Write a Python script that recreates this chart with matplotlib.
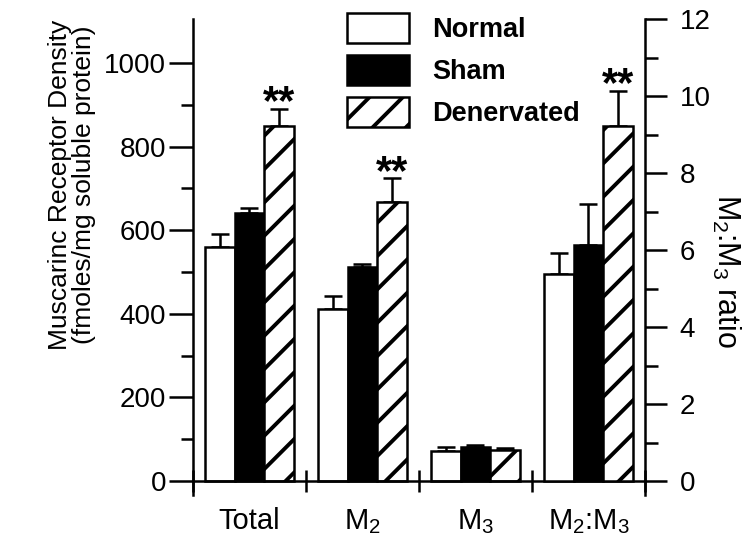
import numpy as np
import matplotlib
matplotlib.use("Agg")
import matplotlib.pyplot as plt

plt.rcParams['font.family'] = ['Liberation Sans', 'DejaVu Sans']
plt.rcParams['mathtext.fontset'] = 'custom'
plt.rcParams['mathtext.rm'] = 'Liberation Sans'
plt.rcParams['mathtext.it'] = 'Liberation Sans:italic'
plt.rcParams['hatch.linewidth'] = 2.8

# Data
groups = ['Total', 'M$_2$', 'M$_3$', 'M$_2$:M$_3$']
series = ['Normal', 'Sham', 'Denervated']
# receptor density (left axis): Total, M2, M3
normal = [560, 412, 72]
normal_err = [30, 31, 10]
sham = [642, 512, 82]
sham_err = [10, 7, 4]
denerv = [848, 667, 74]
denerv_err = [42, 57, 4]
# M2:M3 ratio (right axis)
ratio = [5.37, 6.12, 9.22]
ratio_err = [0.56, 1.08, 0.92]
signif = ['**', '**', '', '**']  # above the denervated bar of each group

left_vals = [normal, sham, denerv]
left_errs = [normal_err, sham_err, denerv_err]

fig = plt.figure(figsize=(7.46, 5.44), dpi=100)
ax = fig.add_axes([0.2587, 0.0904, 0.6059, 0.8746])
ax2 = ax.twinx()

w = 0.262
styles = [dict(facecolor='white', hatch=None),
          dict(facecolor='black', hatch=None),
          dict(facecolor='white', hatch='/')]
lw = 1.8
handles = []
for j in range(3):
    xs = np.arange(3) + 0.5 + (j - 1) * w
    b = ax.bar(xs, left_vals[j], w, edgecolor='black', linewidth=lw, zorder=2, label=series[j], **styles[j])
    handles.append(b)
    ax.errorbar(xs, left_vals[j], yerr=[np.zeros(3), left_errs[j]], fmt='none', ecolor='black',
                elinewidth=lw, capsize=6.5, capthick=lw, zorder=1)
    xr = 3.5 + (j - 1) * w
    ax2.bar([xr], [ratio[j]], w, edgecolor='black', linewidth=lw, zorder=2, **styles[j])
    ax2.errorbar([xr], [ratio[j]], yerr=[[0], [ratio_err[j]]], fmt='none', ecolor='black',
                 elinewidth=lw, capsize=6.5, capthick=lw, zorder=1)

# significance marks
for i in range(4):
    if not signif[i]:
        continue
    xd = i + 0.5 + w
    if i < 3:
        tgt, top = ax, denerv[i] + denerv_err[i]
    else:
        tgt, top = ax2, ratio[2] + ratio_err[2]
    tgt.annotate(signif[i], (xd, top), xytext=(0, -4), textcoords='offset points',
                 ha='center', va='baseline', fontsize=30, fontweight='bold')

ax.set_xlim(0, 4)
ax.set_ylim(-33, 1105)
ax2.set_ylim(-33 / 92.08, 12)

for s in ['top', 'right']:
    ax.spines[s].set_visible(False)
for s in ['top', 'left', 'bottom']:
    ax2.spines[s].set_visible(False)
ax.spines['bottom'].set_position(('data', 0))
ax.spines['left'].set_linewidth(lw)
ax.spines['bottom'].set_linewidth(lw)
ax2.spines['right'].set_linewidth(lw)

ax.set_yticks(np.arange(0, 1001, 200))
ax.set_yticks(np.arange(100, 1001, 200), minor=True)
ax.tick_params(axis='y', which='major', length=17, width=lw, labelsize=20, pad=2.5)
ax.tick_params(axis='y', which='minor', length=9, width=lw)
ax2.set_yticks(np.arange(0, 13, 2))
ax2.set_yticks(np.arange(1, 12, 2), minor=True)
ax2.tick_params(axis='y', which='major', length=16, width=lw, labelsize=20, pad=9)
ax2.tick_params(axis='y', which='minor', length=9, width=lw)

ax.set_xticks(np.arange(4) + 0.5)
ax.set_xticklabels(groups)
ax.set_xticks(np.arange(5), minor=True)
ax.tick_params(axis='x', which='major', length=0, labelsize=21, pad=19)
ax.tick_params(axis='x', which='minor', length=16, width=lw, direction='inout')

ax.set_ylabel('Muscarinc Receptor Density\n(fmoles/mg soluble protein)', fontsize=19,
              linespacing=1.0)
ax.yaxis.set_label_coords(-0.215, 0.651)
ax2.set_ylabel('M$_2$:M$_3$ ratio', fontsize=22, rotation=270, va='center')
ax2.yaxis.set_label_coords(1.18, 0.47)

fig.legend(handles=handles, loc='upper left', bbox_to_anchor=(347 / 746, 1 - 13 / 544),
           frameon=False, borderpad=0, borderaxespad=0, handlelength=2.3, handleheight=1.3,
           handletextpad=0.85, labelspacing=0.45, prop={'size': 19.5, 'weight': 'bold'})

fig.savefig('out.png', dpi=100)
